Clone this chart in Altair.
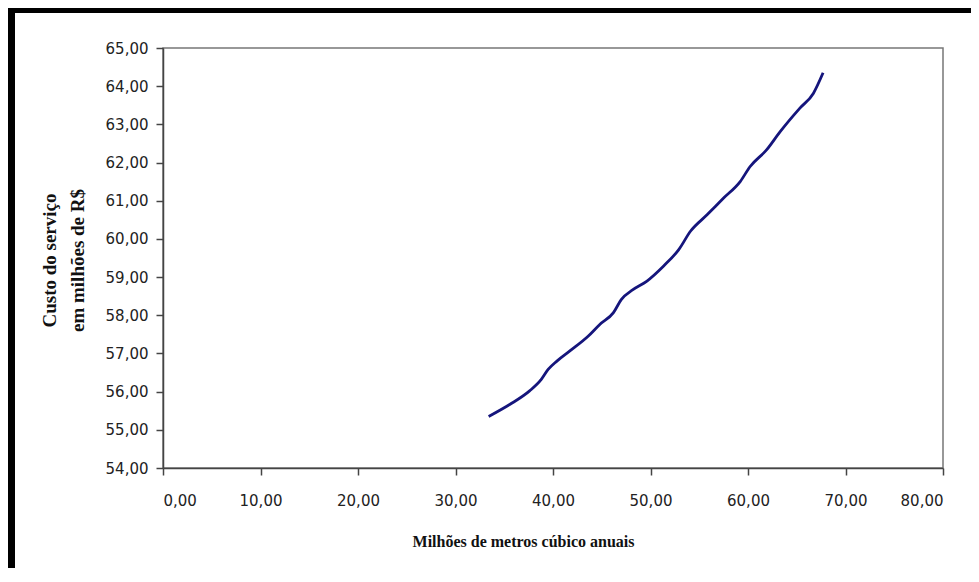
import altair as alt
import pandas as pd

# Curve
volume = [33.4, 35.6, 37.6, 38.8, 39.5, 40.4, 41.7, 43.6, 44.8, 46.2, 47.0,
          48.2, 49.6, 51.3, 52.9, 54.1, 55.8, 57.5, 59.2, 60.2, 61.9, 63.3,
          65.3, 66.7, 67.7]
custo = [55.35, 55.67, 56.02, 56.32, 56.58, 56.80, 57.06, 57.45, 57.76, 58.07,
         58.41, 58.67, 58.89, 59.28, 59.72, 60.20, 60.63, 61.07, 61.50, 61.89,
         62.33, 62.81, 63.42, 63.81, 64.35]

x_ticks = [0, 10, 20, 30, 40, 50, 60, 70, 80]
y_ticks = [54, 55, 56, 57, 58, 59, 60, 61, 62, 63, 64, 65]

x_title = "Milhões de metros cúbico anuais"
y_title = ["Custo do serviço", "em milhões de R$"]

df = pd.DataFrame({"volume": volume, "custo": custo})

label_expr = "replace(format(datum.value, '.2f'), '.', ',')"

line = alt.Chart(df).mark_line(color="#15157c", strokeWidth=2.8,
                               interpolate="monotone").encode(
    x=alt.X("volume:Q",
            scale=alt.Scale(domain=[0, 80], nice=False, zero=False),
            axis=alt.Axis(values=x_ticks, labelExpr=label_expr, title=x_title,
                          titleX=360, titleY=78, titleBaseline="alphabetic",
                          titleAlign="center", labelPadding=18,
                          titleFontSize=16)),
    y=alt.Y("custo:Q",
            scale=alt.Scale(domain=[54, 65], nice=False, zero=False),
            axis=alt.Axis(values=y_ticks, labelExpr=label_expr, title=y_title,
                          titleX=-108, titleY=212, titleAngle=-90,
                          titleBaseline="alphabetic", titleAlign="center",
                          titleLineHeight=28, titleFontSize=19,
                          labelPadding=8)),
)

frame_data = pd.DataFrame({"k": [0]})
frame_left = alt.Chart(frame_data).mark_rule(color="black", strokeWidth=7).encode(
    x=alt.value(-151.5), y=alt.value(-40), y2=alt.value(520))
frame_top = alt.Chart(frame_data).mark_rule(color="black", strokeWidth=5).encode(
    y=alt.value(-37.5), x=alt.value(-155), x2=alt.value(808))

chart = alt.layer(line, frame_left, frame_top).properties(
    width=780,
    height=420,
    padding={"left": 155, "top": 40, "right": 28, "bottom": 100},
    autosize=alt.AutoSizeParams(type="none"),
    background="white",
).configure_view(
    stroke="#777777", strokeWidth=1.5
).configure_axis(
    grid=False,
    domainColor="#444444", domainWidth=1.5,
    tickColor="#444444", tickWidth=1.5, tickSize=7,
    labelFont="DejaVu Sans", labelFontSize=15, labelColor="#222222",
    titleFont="Liberation Serif", titleFontWeight="bold",
    titleColor="#111111",
)

chart.save("out.html", embed_options={"renderer": "svg", "actions": False})
